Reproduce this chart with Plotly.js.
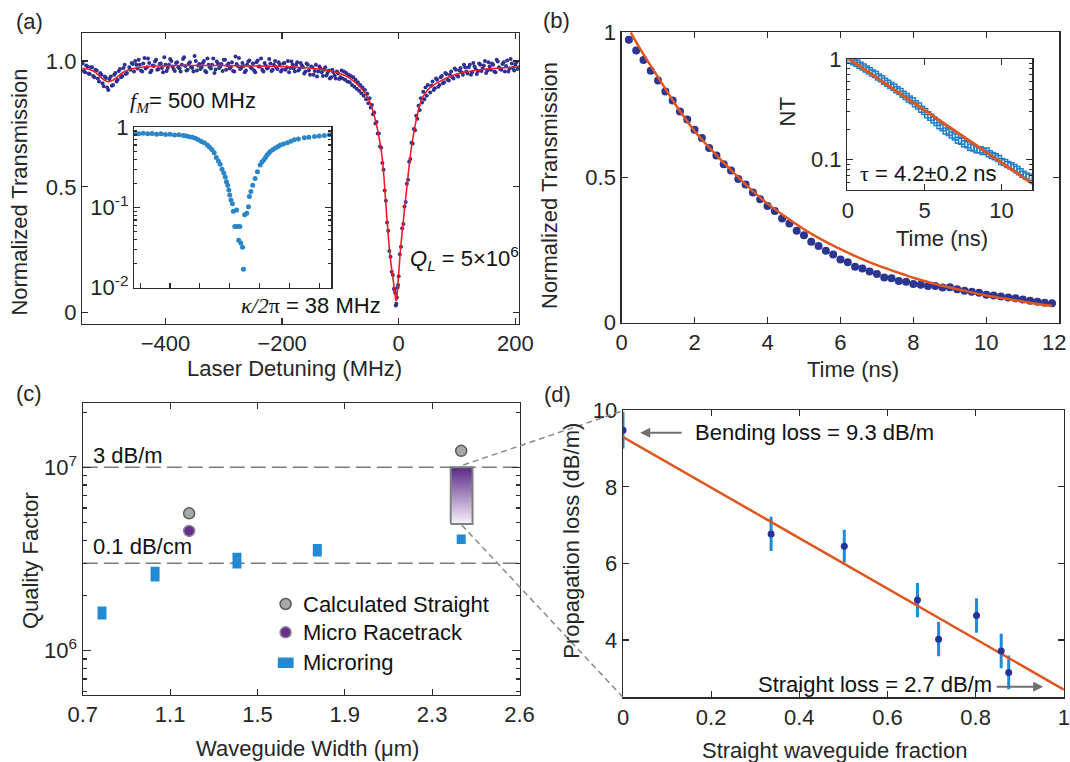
<!DOCTYPE html>
<html><head><meta charset="utf-8">
<script src="https://cdn.plot.ly/plotly-3.0.1.min.js"></script>
<style>html,body{margin:0;padding:0;background:#fff;}#chart{width:1070px;height:762px;}</style>
</head><body><div id="chart"></div>
<script>
// ---------- (a) transmission scan ----------
const xA = [-542,-538,-534,-530,-526,-522,-518,-514,-510,-506,-502,-498,-494,-490,-486,-482,-478,-474,-470,-466];
const yA = [0.990,0.955,0.978,0.948,0.975,0.935,0.962,0.918,0.945,0.900,0.932,0.885,0.938,0.905,0.952,0.925,0.968,0.940,0.985,0.952];
const xA2 = [-540,-536,-532,-528,-524,-520,-516,-512,-508,-504,-500,-496,-492,-488,-484,-480,-476,-472,-468];
const yA2 = [0.960,0.982,0.950,0.975,0.940,0.965,0.930,0.952,0.912,0.938,0.895,0.928,0.902,0.945,0.918,0.960,0.935,0.972,0.948];
const xB = [-462,-458,-454,-450,-446,-442,-438,-434,-430,-426,
 -422,-418,-414,-410,-406,-402,-398,-394,-390,-386,
 -382,-378,-374,-370,-366,-362,-358,-354,-350,-346,
 -342,-338,-334,-330,-326,-322,-318,-314,-310,-306,
 -302,-298,-294,-290,-286,-282,-278,-274,-270,-266,
 -262,-258,-254,-250,-246,-242,-238,-234,-230,-226,
 -222,-218,-214,-210,-206,-202];
const yB = [0.975,0.992,0.958,0.985,1.005,0.962,0.990,0.970,1.010,0.955,
 0.982,0.998,0.965,0.988,0.972,1.015,0.960,0.985,1.000,0.968,
 0.992,0.975,0.958,1.008,0.980,0.965,0.995,0.972,1.020,0.962,
 0.988,0.975,1.000,0.955,0.985,0.970,1.010,0.966,0.990,0.978,
 0.960,1.005,0.983,0.970,0.995,0.958,0.988,1.012,0.972,0.980,
 0.962,0.998,0.975,0.990,0.955,1.002,0.978,0.965,0.992,0.970,
 1.008,0.960,0.985,0.975,0.995,0.958];
const xB2 = [-460,-456,-452,-448,-444,-440,-436,-432,-428,-424,
 -420,-416,-412,-408,-404,-400,-396,-392,-388,-384,
 -380,-376,-372,-368,-364,-360,-356,-352,-348,-344,
 -340,-336,-332,-328,-324,-320,-316,-312,-308,-304,
 -300,-296,-292,-288,-284,-280,-276,-272,-268,-264,
 -260,-256,-252,-248,-244,-240,-236,-232,-228,-224,
 -220,-216,-212,-208,-204];
const yB2 = [0.965,0.988,1.000,0.970,0.985,0.958,1.012,0.975,0.992,0.962,
 0.980,1.005,0.968,0.990,0.955,0.985,0.972,1.008,0.978,0.960,
 0.995,0.970,0.985,1.015,0.962,0.990,0.975,0.958,1.000,0.982,
 0.968,0.992,0.960,1.010,0.975,0.985,0.952,0.998,0.972,0.988,
 1.005,0.965,0.990,0.975,0.960,1.018,0.980,0.968,0.992,0.955,
 0.985,1.002,0.970,0.962,0.995,0.978,1.010,0.958,0.982,0.972,
 0.990,0.965,1.000,0.968,0.985];
const xC = [-198,-194,-190,-186,-182,-178,-174,-170,-166,-162,-158,-154,-150,-146,-142,-138,-134,-130,-126,-122,-118,-114,-110,-106,-102];
const yC = [0.990,0.965,1.000,0.972,0.985,0.958,0.995,0.968,0.982,0.950,0.990,0.962,0.978,0.945,0.985,0.958,0.970,0.940,0.975,0.952,0.930,0.965,0.942,0.958,0.928];
const xC2 = [-200,-196,-192,-188,-184,-180,-176,-172,-168,-164,-160,-156,-152,-148,-144,-140,-136,-132,-128,-124,-120,-116,-112,-108,-104];
const yC2 = [0.965,0.992,0.975,0.955,0.998,0.970,0.985,0.962,0.992,0.975,0.958,0.985,0.945,0.975,0.960,0.938,0.978,0.955,0.965,0.942,0.962,0.935,0.955,0.930,0.950];
const xD = [-100,-98,-96,-94,-92,-90,-88,-86,-84,-82,-80,-78,-76,-74,-72,-70,-68,-66,-64,-62,
 -60,-58,-56,-54,-52,-50,-48,-46,-44,-42,-40,-38,-36,-34,-32,-30,-28,-26,-24,-22,
 -20,-18,-16,-14,-12,-10,-8,-6,-4,-2,0,2,4,6,8,10,12,14,16,18,
 20,22,24,26,28,30,32,34,36,38,40,42,44,46,48,50,-7,-5,-3,-1];
const yD = [0.935,0.962,0.930,0.958,0.925,0.952,0.918,0.945,0.915,0.940,0.905,0.935,0.898,0.925,0.890,0.915,0.882,0.905,0.872,0.895,
 0.862,0.885,0.848,0.870,0.832,0.852,0.815,0.825,0.788,0.795,0.752,0.758,0.712,0.712,0.660,0.655,0.595,0.568,0.485,0.445,
 0.358,0.325,0.245,0.222,0.162,0.150,0.095,0.078,0.035,0.100,0.145,0.232,0.262,0.335,0.352,0.422,0.440,0.512,0.528,0.600,
 0.610,0.675,0.672,0.730,0.725,0.782,0.770,0.822,0.805,0.852,0.835,0.878,0.848,0.895,0.862,0.905,0.090,0.028,0.060,0.110];
const xE = [54,58,62,66,70,74,78,82,86,90,94,98,102,106,110,114,118,122,126,130,
 134,138,142,146,150,154,158,162,166,170,174,178,182,186,190,194,198,202,206];
const yE = [0.875,0.918,0.892,0.925,0.905,0.940,0.915,0.948,0.922,0.958,0.930,0.965,0.938,0.972,0.945,0.975,0.950,0.985,0.955,0.978,
 0.948,0.990,0.960,0.982,0.952,0.995,0.965,0.985,0.955,0.998,0.968,0.988,0.958,1.002,0.970,0.990,0.962,0.995,0.975];
const xE2 = [56,60,64,68,72,76,80,84,88,92,96,100,104,108,112,116,120,124,128,132,
 136,140,144,148,152,156,160,164,168,172,176,180,184,188,192,196,200,204];
const yE2 = [0.902,0.885,0.930,0.898,0.935,0.912,0.952,0.925,0.945,0.935,0.970,0.942,0.962,0.955,0.985,0.958,0.975,0.945,0.992,0.968,
 0.960,0.985,0.970,1.000,0.962,0.978,0.990,0.958,1.005,0.975,0.965,0.995,0.980,0.958,1.008,0.972,0.985,0.968];
const scanX = [].concat(xA,xA2,xB,xB2,xC,xC2,xD,xE,xE2);
const scanY = [].concat(yA,yA2,yB,yB2,yC,yC2,yD,yE,yE2);

const fitAX = [-543,-530,-520,-512,-505,-498,-490,-480,-470,-455,-430,-380,-300,-220,-180,-150,-125,-105,-90,-80,
 -70,-60,-50,-44,-40,-36,-32,-28,-25,-22,-19,-16,-13,-10,-8,-6,-4.8,-3.6,-2,0,
 2,4,6,8,10,12,15,18,22,26,30,35,40,45,50,60,70,80,100,130,160,206];
const fitAY = [0.971,0.966,0.955,0.938,0.924,0.918,0.924,0.942,0.958,0.970,0.978,0.982,0.982,0.979,0.976,0.971,0.964,0.953,0.940,0.925,
 0.905,0.880,0.840,0.800,0.765,0.725,0.675,0.610,0.530,0.430,0.340,0.255,0.190,0.140,0.105,0.070,0.048,0.050,0.090,0.156,
 0.220,0.275,0.320,0.365,0.410,0.455,0.520,0.585,0.660,0.715,0.765,0.815,0.850,0.870,0.885,0.905,0.918,0.930,0.948,0.962,0.970,0.976];

// (a) inset (log transmission, arbitrary detuning units)
const insetX = [-3.18,-3.05,-2.9,-2.75,-2.6,-2.45,-2.3,-2.15,-2.0,-1.85,-1.7,-1.55,-1.45,-1.35,-1.25,-1.15,-1.05,-0.95,-0.85,-0.75,
 -0.68,-0.6,-0.52,-0.45,-0.38,-0.32,-0.26,-0.2,-0.15,-0.11,-0.07,-0.03,0.0,0.04,0.09,0.12,0.17,0.23,0.26,0.30,
 0.34,0.37,0.43,0.46,0.50,0.57,0.63,0.66,0.71,0.77,0.85,0.93,1.02,1.08,1.14,1.2,1.25,1.3,1.36,1.45,
 1.53,1.62,1.70,1.8,1.93,2.05,2.16,2.3,2.5,2.65,2.84,3.0,3.17,3.34];
const insetY = [0.84,0.83,0.845,0.83,0.835,0.82,0.83,0.815,0.82,0.80,0.805,0.79,0.78,0.765,0.75,0.73,0.70,0.665,0.64,0.60,
 0.57,0.53,0.48,0.42,0.38,0.345,0.30,0.27,0.24,0.21,0.19,0.165,0.143,0.124,0.111,0.090,0.058,0.093,0.058,0.039,
 0.058,0.036,0.032,0.017,0.081,0.085,0.102,0.137,0.158,0.19,0.23,0.28,0.34,0.37,0.39,0.42,0.45,0.47,0.50,0.53,
 0.55,0.575,0.60,0.62,0.64,0.67,0.70,0.715,0.74,0.75,0.77,0.78,0.79,0.81];

// ---------- (b) ring-down ----------
const decayT = [0.2,0.4,0.6,0.8,1.0,1.2,1.4,1.6,1.8,2.0,2.2,2.4,2.6,2.8,3.0,3.2,3.4,3.6,3.8,4.0,
 4.2,4.4,4.6,4.8,5.0,5.2,5.4,5.6,5.8,6.0,6.2,6.4,6.6,6.8,7.0,7.2,7.4,7.6,7.8,8.0,
 8.2,8.4,8.6,8.8,9.0,9.2,9.4,9.6,9.8,10.0,10.2,10.4,10.6,10.8,11.0,11.2,11.4,11.6,11.8];
const decayNT = [0.974,0.937,0.905,0.868,0.834,0.796,0.765,0.727,0.700,0.664,0.636,0.602,0.576,0.546,0.524,0.495,0.476,0.448,0.425,0.402,
 0.385,0.359,0.342,0.317,0.301,0.279,0.264,0.248,0.235,0.218,0.208,0.193,0.187,0.176,0.168,0.156,0.153,0.144,0.141,0.133,
 0.131,0.126,0.126,0.121,0.122,0.115,0.110,0.107,0.103,0.096,0.094,0.090,0.087,0.084,0.080,0.076,0.072,0.069,0.067];
const fitBT = [0.25,0.5,1,1.5,2,2.5,3,3.5,4,4.5,5,5.5,6,6.5,7,7.5,8,8.5,9,9.5,10,10.5,11,11.5,11.8];
const fitBNT = [1.0,0.945,0.845,0.747,0.66,0.59,0.525,0.464,0.41,0.364,0.322,0.285,0.253,0.224,0.198,0.176,0.155,0.137,0.121,0.107,0.094,0.083,0.073,0.063,0.058];
const fitInsetT = [0.1, 12];
const fitInsetNT = [1.0, 0.058];
const timeTicks = [0,2,4,6,8,10,12];
const timeTickText = ['0','2','4','6','8','10',''];   // last label drawn as annotation so it stays inside the page

// ---------- (c) quality factor ----------
const ringW = [0.788, 1.031, 1.406, 1.774, 2.433];
const ringQlo = [1.48e6, 2.38e6, 2.81e6, 3.26e6, 3.82e6];
const ringQhi = [1.74e6, 2.87e6, 3.42e6, 3.82e6, 4.30e6];
const calcW = [1.187, 2.433];
const calcQ = [5.61e6, 1.23e7];
const raceW = [1.187];
const raceQ = [4.5e6];
const rangeW = [2.385, 2.485];
const rangeQ = [4.91e6, 1.0e7];
const lossLineQ = [1.0e7, 3.0e6];   // 3 dB/m , 0.1 dB/cm
const widthSpan = [0.7, 2.7];
const legendNames = ['Calculated Straight', 'Micro Racetrack', 'Microring'];

// ---------- (d) propagation loss ----------
const fracX = [0.0, 0.336, 0.502, 0.668, 0.716, 0.802, 0.858, 0.875];
const lossY = [9.48, 6.77, 6.45, 5.04, 4.02, 4.64, 3.71, 3.15];
const lossErr = [0.48, 0.45, 0.43, 0.45, 0.45, 0.45, 0.45, 0.44];
const fitDX = [0, 1];
const fitDY = [9.3, 2.7];

// ---------- build ----------
const W = 1070, H = 762;
const F = 'Liberation Sans, Arial, Helvetica, sans-serif';
const SERIF = 'Liberation Serif, Times New Roman, serif';
const TXT = '#262626';
const dx = (a, b) => [a / W, b / W];
const dy = (top, bot) => [1 - bot / H, 1 - top / H];
function ax(extra) {
  return Object.assign({showline:true, linecolor:'#2b2b2b', linewidth:1.3, mirror:'ticks', ticks:'inside',
    ticklen:6, tickwidth:1.2, tickcolor:'#2b2b2b', showgrid:false, zeroline:false, fixedrange:true,
    ticklabeloverflow:'allow', tickfont:{family:F, size:22, color:TXT}}, extra);
}

const C_GRAY = '#a8a8a8', C_PURP = '#6a2d90', C_RING = '#228ad2';

// microring bars as vertical thick segments
const ringSegX = [], ringSegY = [];
ringW.forEach((w, i) => { ringSegX.push(w, w, null); ringSegY.push(ringQlo[i], ringQhi[i], null); });

const traces = [
  // (a)
  {x: scanX, y: scanY, type:'scatter', mode:'markers', xaxis:'x', yaxis:'y', showlegend:false,
   marker:{color:'#2e3192', size:4}},
  {x: fitAX, y: fitAY, type:'scatter', mode:'lines', xaxis:'x', yaxis:'y', showlegend:false,
   line:{color:'#ee1c25', width:1.6, shape:'spline', smoothing:0.5}},
  {x: insetX, y: insetY, type:'scatter', mode:'markers', xaxis:'x2', yaxis:'y2', showlegend:false,
   marker:{color:'#2a86c8', size:5}},
  // (b)
  {x: decayT, y: decayNT, type:'scatter', mode:'markers', xaxis:'x3', yaxis:'y3', showlegend:false,
   marker:{color:'#2b3592', size:8}},
  {x: fitBT, y: fitBNT, type:'scatter', mode:'lines', xaxis:'x3', yaxis:'y3', showlegend:false,
   line:{color:'#e0561f', width:2.5, shape:'spline'}},
  {x: decayT, y: decayNT, type:'scatter', mode:'markers', xaxis:'x4', yaxis:'y4', showlegend:false,
   marker:{symbol:'square-open', color:'#1f80cc', size:6, line:{width:1.5}}},
  {x: fitInsetT, y: fitInsetNT, type:'scatter', mode:'lines', xaxis:'x4', yaxis:'y4', showlegend:false,
   line:{color:'#e0561f', width:3}},
  // (c)
  {x: widthSpan, y: [lossLineQ[0], lossLineQ[0]], type:'scatter', mode:'lines', xaxis:'x5', yaxis:'y5', showlegend:false,
   line:{color:'#7a7a7a', width:1.5, dash:'15px,6px'}},
  {x: widthSpan, y: [lossLineQ[1], lossLineQ[1]], type:'scatter', mode:'lines', xaxis:'x5', yaxis:'y5', showlegend:false,
   line:{color:'#7a7a7a', width:1.5, dash:'15px,6px'}},
  {x: [rangeW[0], rangeW[1], rangeW[1], rangeW[0], rangeW[0]], y: [rangeQ[0], rangeQ[0], rangeQ[1], rangeQ[1], rangeQ[0]],
   type:'scatter', mode:'lines', fill:'toself', xaxis:'x5', yaxis:'y5', showlegend:false,
   fillgradient:{type:'vertical', colorscale:[[0,'#f6f3f9'],[1,'#5a2786']]},
   line:{color:'#808080', width:2}},
  {x: ringSegX, y: ringSegY, type:'scatter', mode:'lines', xaxis:'x5', yaxis:'y5', showlegend:false, name:legendNames[2],
   line:{color:C_RING, width:9}},
  {x: calcW, y: calcQ, type:'scatter', mode:'markers', xaxis:'x5', yaxis:'y5', showlegend:false, name:legendNames[0],
   marker:{color:C_GRAY, size:11, line:{color:'#5a5a5a', width:1.5}}},
  {x: raceW, y: raceQ, type:'scatter', mode:'markers', xaxis:'x5', yaxis:'y5', showlegend:false, name:legendNames[1],
   marker:{color:C_PURP, size:11, line:{color:'#8a8a8a', width:1.5}}},
  // (d)
  {x: fracX, y: lossY, type:'scatter', mode:'markers', xaxis:'x6', yaxis:'y6', showlegend:false,
   marker:{size:1, opacity:0, color:'#1f8ad6'},
   error_y:{type:'data', array:lossErr, visible:true, color:'#1f8ad6', thickness:3, width:0}},
  {x: fitDX, y: fitDY, type:'scatter', mode:'lines', xaxis:'x6', yaxis:'y6', showlegend:false,
   line:{color:'#e0561f', width:2.5}},
  {x: fracX, y: lossY, type:'scatter', mode:'markers', xaxis:'x6', yaxis:'y6', showlegend:false,
   marker:{color:'#28339a', size:7}}
];

function A(text, px, py, o) {
  return Object.assign({text:text, x:px / W, y:1 - py / H, xref:'paper', yref:'paper', showarrow:false,
    xanchor:'center', yanchor:'middle', font:{family:F, size:22, color:TXT}}, o || {});
}
const LBL = {xanchor:'left', font:{family:F, size:22, color:'#111'}};
const annotations = [
  A('(a)', 29.6, 22), A('(b)', 556, 20), A('(c)', 29.4, 393), A('(d)', 557, 394),
  A('12', 1053.5, 342),
  // axis titles
  A('Laser Detuning (MHz)', 294, 368),
  A('Normalized Transmission', 18.6, 192, {textangle:-90}),
  A('Time (ns)', 853, 370),
  A('Normalized Transmission', 549, 186, {textangle:-90}),
  A('Time (ns)', 942, 238),
  A('NT', 787, 112.5, {textangle:-90}),
  A('Waveguide Width (μm)', 307.6, 748),
  A('Quality Factor', 30.4, 560.7, {textangle:-90}),
  A('Straight waveguide fraction', 834.8, 750),
  A('Propagation loss (dB/m)', 572, 540.7, {textangle:-90}),
  // in-plot texts
  A('<span style="font-family:' + SERIF + '"><i>f</i><sub><i>M</i></sub></span>= 500 MHz', 128, 102, LBL),
  A('<span style="font-family:' + SERIF + '"><i>κ/2</i>π</span> = 38 MHz', 239, 305, LBL),
  A('<i>Q</i><sub><i>L</i></sub> = 5×10<sup>6</sup>', 408, 258, LBL),
  A('<span style="font-family:' + SERIF + '">τ</span> = 4.2±0.2 ns', 858, 173, LBL),
  A('3 dB/m', 91.3, 455, LBL),
  A('0.1 dB/cm', 91.3, 546.7, LBL),
  A('Bending loss = 9.3 dB/m', 692.6, 432, LBL),
  A('Straight loss = 2.7 dB/m', 755.6, 684, LBL),
  // legend texts of (c)
  A(legendNames[0], 300.8, 604, LBL),
  A(legendNames[1], 300.8, 632.3, LBL),
  A(legendNames[2], 300.8, 662.7, LBL),
  // arrows
  {text:'', x:640.2 / W, y:1 - 432.7 / H, xref:'paper', yref:'paper', showarrow:true, ax:43, ay:0,
   arrowhead:2, arrowsize:1, arrowwidth:2, arrowcolor:'#6f6f6f', standoff:0},
  {text:'', x:1043.2 / W, y:1 - 686.7 / H, xref:'paper', yref:'paper', showarrow:true, ax:-48, ay:0,
   arrowhead:2, arrowsize:1, arrowwidth:2, arrowcolor:'#6f6f6f', standoff:0}
];

const P = (px) => px / W, Q = (py) => 1 - py / H;
const shapes = [
  {type:'line', xref:'paper', yref:'paper', x0:P(463.3), y0:Q(465), x1:P(623), y1:Q(410.7),
   line:{color:'#8a8a8a', width:1.5, dash:'6px,4px'}},
  {type:'line', xref:'paper', yref:'paper', x0:P(461.7), y0:Q(525), x1:P(623), y1:Q(697.3),
   line:{color:'#8a8a8a', width:1.5, dash:'6px,4px'}},
  // legend keys of (c)
  {type:'circle', xref:'paper', yref:'paper', x0:P(280.1), x1:P(291.1), y0:Q(609.5), y1:Q(598.5),
   fillcolor:C_GRAY, line:{color:'#5a5a5a', width:1.5}},
  {type:'circle', xref:'paper', yref:'paper', x0:P(280.1), x1:P(291.1), y0:Q(637.8), y1:Q(626.8),
   fillcolor:C_PURP, line:{color:'#8a8a8a', width:1.5}},
  {type:'rect', xref:'paper', yref:'paper', x0:P(277.8), x1:P(293.6), y0:Q(668), y1:Q(657.5),
   fillcolor:C_RING, line:{width:0}}
];

const logMinorA = [0.02,0.03,0.04,0.05,0.06,0.07,0.08,0.09,0.2,0.3,0.4,0.5,0.6,0.7,0.8,0.9];
const logMinorB = [0.06,0.07,0.08,0.09,0.2,0.3,0.4,0.5,0.6,0.7,0.8,0.9];
const logMinorC = [6e5,7e5,8e5,9e5,2e6,3e6,4e6,5e6,6e6,7e6,8e6,9e6,2e7];

const layout = {
  width:W, height:H, margin:{l:0, r:0, t:0, b:0}, paper_bgcolor:'#fff', plot_bgcolor:'#fff',
  font:{family:F, size:22, color:TXT},
  showlegend:false,
  xaxis: ax({domain:dx(82.1, 518.8), anchor:'y', range:[-543, 206], tickvals:[-400,-200,0,200]}),
  yaxis: ax({domain:dy(33.3, 323.7), anchor:'x', range:[-0.044, 1.11], tickvals:[0,0.5,1], ticktext:['0','0.5','1.0']}),
  xaxis2: ax({domain:dx(134.2, 331.2), anchor:'y2', range:[-3.2, 3.4], tickvals:[-3,-2,-1,0,1,2,3], showticklabels:false, mirror:true, ticklen:5}),
  yaxis2: ax({domain:dy(127.3, 287.7), anchor:'x2', type:'log', range:[-2, 0], tickvals:[0.01,0.1,1],
    ticktext:['10<sup>-2</sup>','10<sup>-1</sup>','1'], ticklen:6,
    minor:{tickmode:'array', tickvals:logMinorA, ticks:'inside', ticklen:3, tickcolor:'#2b2b2b'}}),
  xaxis3: ax({domain:dx(621.6, 1059.3), anchor:'y3', range:[0, 12], tickvals:timeTicks, ticktext:timeTickText}),
  yaxis3: ax({domain:dy(32.3, 322.7), anchor:'x3', range:[0, 1], tickvals:[0,0.5,1], ticktext:['0','0.5','1']}),
  xaxis4: ax({domain:dx(847.3, 1032.3), anchor:'y4', range:[-0.03, 12], tickvals:[0,5,10]}),
  yaxis4: ax({domain:dy(59, 190), anchor:'x4', type:'log', range:[-1.3, 0], tickvals:[0.1,1], ticktext:['0.1','1'],
    minor:{tickmode:'array', tickvals:logMinorB, ticks:'inside', ticklen:3, tickcolor:'#2b2b2b'}}),
  xaxis5: ax({domain:dx(82.8, 519.5), anchor:'y5', range:[0.7, 2.7], tickvals:[0.7,1.1,1.5,1.9,2.3,2.7],
    ticktext:['0.7','1.1','1.5','1.9','2.3','2.6']}),
  yaxis5: ax({domain:dy(403.3, 694.5), anchor:'x5', type:'log', range:[5.761, 7.349], tickvals:[1e6,1e7],
    ticktext:['10<sup>6</sup>','10<sup>7</sup>'], ticklen:8,
    minor:{tickmode:'array', tickvals:logMinorC, ticks:'inside', ticklen:4, tickcolor:'#2b2b2b'}}),
  xaxis6: ax({domain:dx(623, 1063.8), anchor:'y6', range:[0, 1], tickvals:[0,0.2,0.4,0.6,0.8,1],
    ticktext:['0','0.2','0.4','0.6','0.8','1']}),
  yaxis6: ax({domain:dy(410.3, 697.3), anchor:'x6', range:[2.5, 10], tickvals:[4,6,8,10]}),
  annotations: annotations,
  shapes: shapes
};

Plotly.newPlot('chart', traces, layout, {staticPlot:true, displayModeBar:false});
</script>
</body></html>
